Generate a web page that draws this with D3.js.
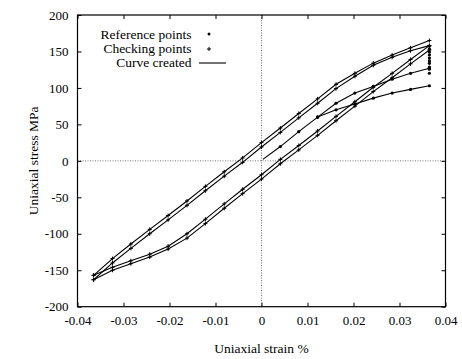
<!DOCTYPE html>
<html><head><meta charset="utf-8">
<script src="https://cdn.jsdelivr.net/npm/d3@7"></script>
<style>body{margin:0;background:#fff}svg{display:block}</style>
</head><body>
<svg id="c" width="462" height="359"></svg>
<script>
// ---- data ----
const xTickValues = [-0.04,-0.03,-0.02,-0.01,0,0.01,0.02,0.03,0.04];
const xTickLabels = ["-0.04","-0.03","-0.02","-0.01","0","0.01","0.02","0.03","0.04"];
const yTickValues = [-200,-150,-100,-50,0,50,100,150,200];
const yTickLabels = ["-200","-150","-100","-50","0","50","100","150","200"];

// hysteresis loop (curve created / checking points)
const loopStrain     = [-0.0365,-0.0324,-0.0284,-0.0243,-0.0203,-0.0162,-0.0122,-0.0081,-0.0041,0,0.0041,0.0081,0.0122,0.0162,0.0203,0.0243,0.0284,0.0324,0.0365];
const loadingUpper   = [-157,-134,-114,-94,-75,-55,-35,-15,4,25,45,65,85,105,120,134,145,155,165];
const loadingLower   = [-163,-140,-120,-100,-81,-61,-41,-21,-2,19,39,59,79,99,116,131,142,151,158];
const unloadingUpper = [-157,-146,-137,-128,-117,-100,-80,-59,-39,-19,2,21,41,61,81,101,120,139,158];
const unloadingLower = [-163,-150,-141,-132,-121,-106,-86,-65,-45,-25,-4,15,35,55,75,95,114,133,152];

// initial loading reference points
const initStrain = [0.0003,0.0041,0.0081,0.0122];
const initStress = [2,19.6,40,60];
const branchStrain = [0.0122,0.0162,0.0203,0.0243,0.0284,0.0324,0.0365];
const branchUpper  = [60,79,93,102,112,120,127];
const branchLower  = [60,70,78,86,93,98,103];
const peakStrain = 0.0365;
const peakStress = [157.5,153.4,149.3,145.2,141,137,133.8,128.4,125.6,120.1];

const legendLabels = ["Reference points","Checking points","Curve created"];

// ---- chart ----
const svg = d3.select("#c");
const L = 77.5, R = 445.5, T = 15, B = 306.7;
const x = d3.scaleLinear().domain([-0.04,0.04]).range([L,R]);
const y = d3.scaleLinear().domain([-200,200]).range([B,T]);
const font = "'Liberation Serif','Times New Roman',serif";

// zero lines
svg.append("line").attr("x1",x(0)).attr("x2",x(0)).attr("y1",T).attr("y2",B)
  .attr("stroke","#555").attr("stroke-width",0.8).attr("stroke-dasharray","1,1.5");
svg.append("line").attr("x1",L).attr("x2",R).attr("y1",y(0)).attr("y2",y(0))
  .attr("stroke","#555").attr("stroke-width",0.8).attr("stroke-dasharray","1,1.5");

// axes with inward ticks
function styleAxis(g){
  g.select(".domain").remove();
  g.selectAll(".tick line").attr("stroke","#000").attr("stroke-width",1);
  g.selectAll(".tick text").attr("font-family",font).attr("font-size",13).attr("fill","#000");
}
svg.append("g").attr("transform",`translate(0,${B})`)
  .call(d3.axisBottom(x).tickValues(xTickValues).tickSizeInner(-4).tickSizeOuter(0).tickPadding(9)
    .tickFormat((d,i)=>xTickLabels[i])).call(styleAxis);
svg.append("g").attr("transform",`translate(0,${T})`)
  .call(d3.axisTop(x).tickValues(xTickValues).tickSizeInner(-4).tickSizeOuter(0).tickFormat(""))
  .call(styleAxis);
svg.append("g").attr("transform",`translate(${L},0)`)
  .call(d3.axisLeft(y).tickValues(yTickValues).tickSizeInner(-4).tickSizeOuter(0).tickPadding(9)
    .tickFormat((d,i)=>yTickLabels[i])).call(styleAxis);
svg.append("g").attr("transform",`translate(${R},0)`)
  .call(d3.axisRight(y).tickValues(yTickValues).tickSizeInner(-4).tickSizeOuter(0).tickFormat(""))
  .call(styleAxis);

// frame
svg.append("rect").attr("x",L).attr("y",T).attr("width",R-L).attr("height",B-T)
  .attr("fill","none").attr("stroke","#000").attr("stroke-width",1.2);

// axis titles
svg.append("text").attr("x",(L+R)/2).attr("y",353).attr("text-anchor","middle")
  .attr("font-family",font).attr("font-size",13.5).text("Uniaxial strain %");
svg.append("text").attr("transform",`translate(38,${(T+B)/2}) rotate(-90)`).attr("text-anchor","middle")
  .attr("font-family",font).attr("font-size",13.5).text("Uniaxial stress MPa");

const line = d3.line().x(d=>x(d[0])).y(d=>y(d[1]));
const plot = svg.append("g");
function drawLine(xs, ys){
  const pts = xs.map((v,i)=>[v,ys[i]]);
  plot.append("path").datum(pts).attr("d",line).attr("fill","none")
    .attr("stroke","#000").attr("stroke-width",1.1);
  return pts;
}
function plus(px,py,s){
  plot.append("path").attr("d",`M${px-s},${py}H${px+s}M${px},${py-s}V${py+s}`)
    .attr("stroke","#000").attr("stroke-width",1);
}
function dot(px,py){
  plot.append("circle").attr("cx",px).attr("cy",py).attr("r",1.6).attr("fill","#000");
}

[loadingUpper,loadingLower,unloadingUpper,unloadingLower].forEach(arr=>{
  const pts = drawLine(loopStrain, arr);
  pts.forEach(p=>plus(x(p[0]),y(p[1]),2));
});

const initPts = drawLine(initStrain, initStress);
initPts.slice(1).forEach(p=>dot(x(p[0]),y(p[1])));
[branchUpper,branchLower].forEach(arr=>{
  const pts = drawLine(branchStrain, arr);
  pts.forEach(p=>dot(x(p[0]),y(p[1])));
});
peakStress.forEach(s=>dot(x(peakStrain),y(s)));

// legend
const lg = svg.append("g");
const legY = [38.5,53,67];
legendLabels.forEach((t,i)=>{
  lg.append("text").attr("x",191.5).attr("y",legY[i]).attr("text-anchor","end")
    .attr("font-family",font).attr("font-size",13.5).text(t);
});
lg.append("circle").attr("cx",209).attr("cy",34).attr("r",1.5).attr("fill","#000");
lg.append("path").attr("d",`M207,49H211M209,47V51`).attr("stroke","#000").attr("stroke-width",1);
lg.append("line").attr("x1",199).attr("x2",226).attr("y1",63).attr("y2",63)
  .attr("stroke","#000").attr("stroke-width",1.1);
</script>
</body></html>
